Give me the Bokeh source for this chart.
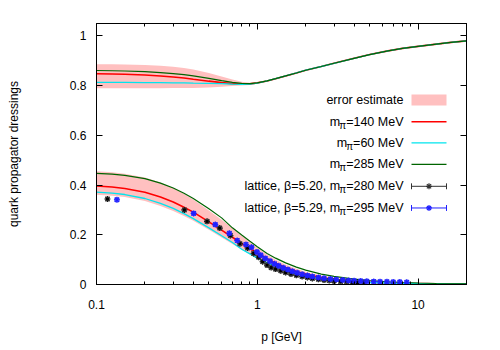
import math
from bokeh.plotting import figure
from bokeh.models import Range1d, FixedTicker, CustomJSTickFormatter, LinearAxis, LogAxis
from bokeh.core.properties import value
from bokeh.embed import file_html
from bokeh.resources import INLINE

# ---------------- data ----------------
P = [0.1, 0.125, 0.15, 0.2, 0.25, 0.3, 0.35, 0.4, 0.5, 0.6, 0.7, 0.8, 0.9, 1.0,
     1.15, 1.3, 1.5, 1.75, 2.0, 2.5, 3.0, 4.0, 5.0, 6.5, 8.0, 10, 13, 16, 20]

# upper dressing
U140 = [0.848, 0.847, 0.846, 0.843, 0.839, 0.835, 0.831, 0.826, 0.818, 0.812, 0.808, 0.806, 0.807, 0.811,
        0.819, 0.828, 0.839, 0.851, 0.862, 0.877, 0.890, 0.910, 0.925, 0.940, 0.950, 0.958, 0.967, 0.974, 0.980]
U60 = [0.813, 0.813, 0.813, 0.812, 0.812, 0.811, 0.811, 0.810, 0.809, 0.808, 0.806, 0.805, 0.806, 0.810,
       0.819, 0.828, 0.839, 0.851, 0.862, 0.877, 0.890, 0.910, 0.925, 0.940, 0.950, 0.958, 0.967, 0.974, 0.980]
U285 = [0.861, 0.860, 0.859, 0.856, 0.852, 0.848, 0.844, 0.839, 0.829, 0.820, 0.813, 0.809, 0.808, 0.811,
        0.819, 0.828, 0.839, 0.851, 0.862, 0.877, 0.890, 0.910, 0.925, 0.940, 0.950, 0.958, 0.967, 0.974, 0.980]
U_ERR_HI = [0.886, 0.886, 0.885, 0.883, 0.880, 0.876, 0.871, 0.865, 0.851, 0.837, 0.825, 0.816, 0.812, 0.814,
            0.821, 0.830, 0.841, 0.853, 0.864, 0.879, 0.892, 0.912, 0.927, 0.942, 0.952, 0.960, 0.969, 0.976, 0.982]
U_ERR_LO = [0.790, 0.790, 0.790, 0.790, 0.790, 0.791, 0.791, 0.791, 0.793, 0.796, 0.799, 0.801, 0.803, 0.808,
            0.817, 0.826, 0.837, 0.849, 0.860, 0.875, 0.888, 0.908, 0.923, 0.938, 0.948, 0.956, 0.965, 0.972, 0.978]

# lower dressing
L140 = [0.396, 0.392, 0.386, 0.371, 0.352, 0.332, 0.311, 0.291, 0.252, 0.219, 0.190, 0.165, 0.144, 0.126,
        0.104, 0.086, 0.068, 0.052, 0.041, 0.028, 0.020, 0.013, 0.009, 0.006, 0.005, 0.004, 0.003, 0.002, 0.002]
L60 = [0.372, 0.368, 0.362, 0.346, 0.326, 0.306, 0.285, 0.265, 0.228, 0.196, 0.169, 0.142, 0.123, 0.106,
       0.088, 0.073, 0.057, 0.044, 0.035, 0.024, 0.017, 0.011, 0.008, 0.006, 0.005, 0.004, 0.003, 0.002, 0.002]
L285 = [0.447, 0.444, 0.439, 0.426, 0.408, 0.388, 0.367, 0.346, 0.305, 0.268, 0.228, 0.199, 0.174, 0.152,
        0.125, 0.106, 0.087, 0.070, 0.058, 0.042, 0.033, 0.022, 0.016, 0.011, 0.008, 0.006, 0.004, 0.003, 0.003]
L_ERR_HI = [0.456, 0.452, 0.446, 0.430, 0.410, 0.388, 0.365, 0.342, 0.298, 0.260, 0.226, 0.196, 0.170, 0.148,
            0.121, 0.100, 0.080, 0.063, 0.051, 0.036, 0.027, 0.018, 0.013, 0.009, 0.007, 0.005, 0.004, 0.003, 0.003]
L_ERR_LO = [0.361, 0.357, 0.352, 0.336, 0.316, 0.296, 0.276, 0.256, 0.220, 0.189, 0.163, 0.140, 0.121, 0.105,
            0.087, 0.072, 0.057, 0.044, 0.035, 0.024, 0.017, 0.011, 0.008, 0.006, 0.004, 0.003, 0.003, 0.002, 0.002]

# lattice data
LAT520_P = [0.117, 0.352, 0.487, 0.584, 0.68, 0.78, 0.87, 0.95, 1.02, 1.08, 1.15, 1.22, 1.30, 1.40,
            1.50, 1.62, 1.75, 1.90, 2.05, 2.2, 2.4, 2.6, 2.8, 3.0, 3.3, 3.6, 3.9, 4.2, 4.6]
LAT520_Y = [0.344, 0.300, 0.254, 0.227, 0.197, 0.164, 0.147, 0.125, 0.110, 0.092, 0.078, 0.068, 0.062, 0.055,
            0.048, 0.042, 0.037, 0.032, 0.028, 0.024, 0.021, 0.018, 0.016, 0.014, 0.012, 0.011, 0.009, 0.008, 0.007]
LAT529_P = [0.134, 0.402, 0.548, 0.67, 0.75, 0.85, 0.92, 0.995, 1.05, 1.12, 1.2, 1.28, 1.36, 1.45, 1.55,
            1.65, 1.77, 1.9, 2.05, 2.2, 2.4, 2.6, 2.85, 3.1, 3.4, 3.7, 4.0, 4.4, 4.8, 5.3, 5.8, 6.4, 7.0, 7.7, 8.5]
LAT529_Y = [0.341, 0.286, 0.241, 0.206, 0.177, 0.161, 0.150, 0.131, 0.118, 0.105, 0.094, 0.083, 0.075, 0.067,
            0.060, 0.053, 0.047, 0.041, 0.036, 0.032, 0.028, 0.025, 0.022, 0.020, 0.018, 0.016, 0.015, 0.014,
            0.013, 0.012, 0.011, 0.011, 0.010, 0.010, 0.009]

X_TICKS = [0.1, 1, 10]
X_MINOR = [0.2, 0.3, 0.4, 0.5, 0.6, 0.7, 0.8, 0.9, 2, 3, 4, 5, 6, 7, 8, 9, 20]
Y_TICKS = [0, 0.2, 0.4, 0.6, 0.8, 1.0]

LEGEND_LABELS = ["error estimate", ("m", "π", "=140 MeV"), ("m", "π", "=60 MeV"), ("m", "π", "=285 MeV"),
                 ("lattice, β=5.20, m", "π", "=280 MeV"), ("lattice, β=5.29, m", "π", "=295 MeV")]

# ---------------- layout ----------------
XMIN, XMAX = 0.1, 20.0
YMIN, YMAX = 0.0, 1.05
W, H = 492, 346
FW, FH = 370, 265
ML, MT = 96, 23
OFF = 0
FONT = "Liberation Sans"
FS = "12px"
LFS = "12.5px"

RED = "#ff0000"
CYAN = "#00e5ee"
GREEN = "#006400"
PINK = "#ffc0c0"
BLUE = "#2020ff"

p = figure(width=W, height=H, x_axis_type="log",
           x_range=Range1d(XMIN, XMAX), y_range=Range1d(YMIN, YMAX),
           output_backend="svg", toolbar_location=None,
           min_border_left=ML, min_border_right=W - ML - FW, min_border_top=MT,
           min_border_bottom=H - MT - FH)
p.grid.visible = False
p.outline_line_color = "black"
p.outline_line_width = 1
p.background_fill_color = "white"
p.border_fill_color = "white"


def px2x(px):
    f = (px - (ML + OFF)) / FW
    return 10 ** (math.log10(XMIN) + f * (math.log10(XMAX) - math.log10(XMIN)))


def py2y(py):
    f = ((MT + OFF + FH) - py) / FH
    return YMIN + f * (YMAX - YMIN)


# bands
p.varea(x=P, y1=U_ERR_LO, y2=U_ERR_HI, fill_color=PINK)
p.varea(x=P, y1=L_ERR_LO, y2=L_ERR_HI, fill_color=PINK)

# curves
for ys, col, lw in [(U140, RED, 1.6), (L140, RED, 1.6), (U60, CYAN, 1.3), (L60, CYAN, 1.3),
                    (U285, GREEN, 1.2), (L285, GREEN, 1.2)]:
    p.line(P, ys, line_color=col, line_width=lw)

# lattice
p.scatter(LAT520_P, LAT520_Y, marker="asterisk", size=6, line_color="black", line_width=1.2)
p.scatter(LAT520_P, LAT520_Y, marker="square", size=4, fill_color=None, line_color="#444444", line_width=0.8)
p.scatter(LAT529_P, LAT529_Y, marker="asterisk", size=6, line_color=BLUE, line_width=1.2)
p.scatter(LAT529_P, LAT529_Y, marker="square", size=4, fill_color=None, line_color=BLUE, line_width=0.8)


# axes styling
def style_axis(ax, labels=True):
    ax.axis_line_color = "black"
    ax.major_tick_in = 6
    ax.major_tick_out = 0
    ax.minor_tick_in = 3
    ax.minor_tick_out = 0
    ax.major_tick_line_color = "black"
    ax.minor_tick_line_color = "black"
    ax.major_label_text_font = FONT
    ax.major_label_text_font_size = FS if labels else "1px"
    ax.major_label_text_color = "black"
    ax.axis_label_text_font = FONT
    ax.axis_label_text_font_size = FS
    ax.axis_label_text_font_style = "normal"
    ax.axis_label_text_color = "black"


xax = p.xaxis[0]
xax.ticker = FixedTicker(ticks=X_TICKS, minor_ticks=X_MINOR)
xax.formatter = CustomJSTickFormatter(code="return String(tick)")
style_axis(xax)
xax.axis_label = "p [GeV]"
xax.major_label_standoff = 15
xax.axis_label_standoff = 18

yax = p.yaxis[0]
yax.ticker = FixedTicker(ticks=Y_TICKS, minor_ticks=[])
yax.formatter = CustomJSTickFormatter(code="return String(Math.round(tick*10)/10)")
style_axis(yax)
yax.axis_label = "quark propagator dressings"
yax.major_label_standoff = 10
yax.axis_label_standoff = 46

rax = LinearAxis(ticker=FixedTicker(ticks=Y_TICKS, minor_ticks=[]),
                 formatter=CustomJSTickFormatter(code="return ''"))
style_axis(rax, labels=False)
rax.major_label_standoff = 0
p.add_layout(rax, "right")
tax = LogAxis(ticker=FixedTicker(ticks=X_TICKS, minor_ticks=X_MINOR),
              formatter=CustomJSTickFormatter(code="return ''"))
style_axis(tax, labels=False)
tax.major_label_standoff = 0
p.add_layout(tax, "above")

# legend (drawn manually: labels right-aligned, samples to the right)
ROW_Y = [100.7, 122.7, 144.3, 166.0, 188.3, 210.3]
TXT_R = 403
S0, S1 = 411, 446
SUBW = 6.0
xr = px2x(TXT_R)


def text_w(s):
    w = {"=": 584, "1": 556, "2": 556, "4": 556, "0": 556, "5": 556, "6": 556, "8": 556, "9": 556,
         " ": 278, "M": 833, "e": 556, "V": 667}
    return sum(w.get(c, 556) for c in s) * 12.5 / 1000.0


for i, lab in enumerate(LEGEND_LABELS):
    yy = py2y(ROW_Y[i])
    if isinstance(lab, str):
        p.text([xr], [yy], text=[lab], text_align="right", text_baseline="middle",
               text_font=value(FONT), text_font_size=LFS, text_color="black")
    else:
        a, b, c = lab
        wc = text_w(c)
        p.text([xr], [yy], text=[c], text_align="right", text_baseline="middle",
               text_font=value(FONT), text_font_size=LFS, text_color="black")
        p.text([xr], [yy], text=[b], text_align="right", text_baseline="middle", x_offset=-wc, y_offset=3.5,
               text_font=value(FONT), text_font_size="10px", text_color="black")
        p.text([xr], [yy], text=[a], text_align="right", text_baseline="middle", x_offset=-(wc + SUBW),
               text_font=value(FONT), text_font_size=LFS, text_color="black")

# sample: pink box
p.quad(left=[px2x(S0)], right=[px2x(S1)], bottom=[py2y(ROW_Y[0] + 5.5)], top=[py2y(ROW_Y[0] - 5.5)],
       fill_color=PINK, line_color=None)
for i, col, lw in [(1, RED, 1.6), (2, CYAN, 1.3), (3, GREEN, 1.2)]:
    p.segment(x0=[px2x(S0)], x1=[px2x(S1)], y0=[py2y(ROW_Y[i])], y1=[py2y(ROW_Y[i])], line_color=col, line_width=lw)
for i, col in [(4, "#333333"), (5, BLUE)]:
    yy = py2y(ROW_Y[i])
    p.segment(x0=[px2x(S0)], x1=[px2x(S1)], y0=[yy], y1=[yy], line_color=col, line_width=1)
    for sx in (S0, S1):
        p.segment(x0=[px2x(sx)], x1=[px2x(sx)], y0=[py2y(ROW_Y[i] - 3)], y1=[py2y(ROW_Y[i] + 3)],
                  line_color=col, line_width=1)
    p.scatter([px2x((S0 + S1) / 2)], [yy], marker="asterisk", size=6, line_color=col, line_width=1.2)

open("out.html", "w").write(file_html(p, INLINE))
